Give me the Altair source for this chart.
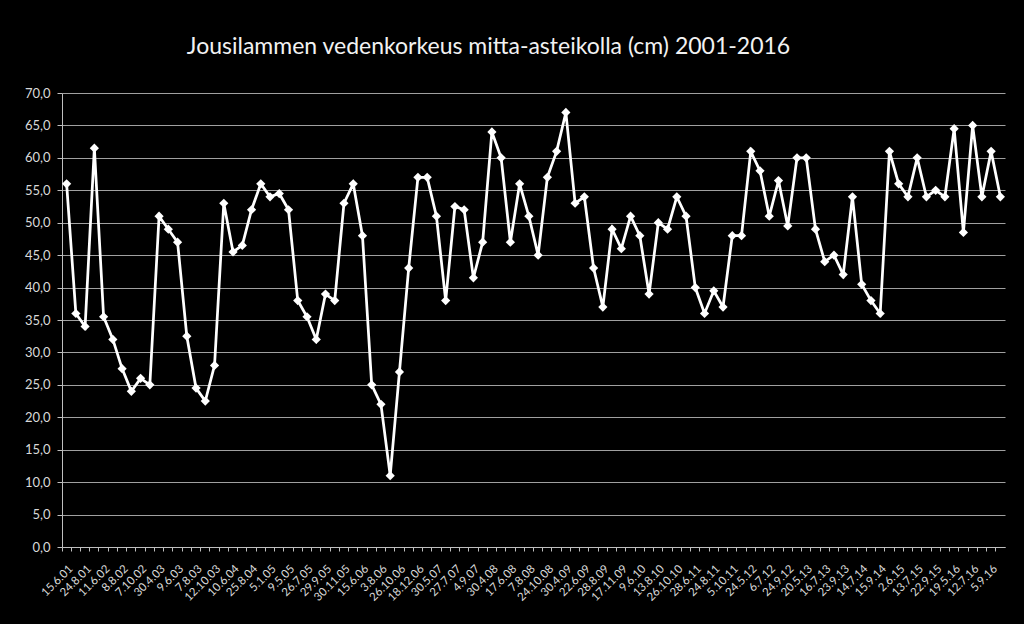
import altair as alt
import pandas as pd
import json

# Every other measurement date is printed on the axis (as in the original)
labelled_dates = [
    "15.6.01", "24.8.01", "11.6.02", "8.8.02", "7.10.02", "30.4.03", "9.6.03",
    "7.8.03", "12.10.03", "10.6.04", "25.8.04", "5.1.05", "9.5.05", "26.7.05",
    "29.9.05", "30.11.05", "15.6.06", "3.8.06", "26.10.06", "18.12.06",
    "30.5.07", "27.7.07", "4.9.07", "30.4.08", "17.6.08", "7.8.08", "24.10.08",
    "30.4.09", "22.6.09", "28.8.09", "17.11.09", "9.6.10", "13.8.10",
    "26.10.10", "28.6.11", "24.8.11", "5.10.11", "24.5.12", "6.7.12",
    "24.9.12", "20.5.13", "16.7.13", "23.9.13", "14.7.14", "15.9.14",
    "2.6.15", "13.7.15", "22.9.15", "19.5.16", "12.7.16", "5.9.16",
]

water_level = [
    56, 36, 34, 61.5, 35.5, 32, 27.5, 24, 26, 25,
    51, 49, 47, 32.5, 24.5, 22.5, 28, 53, 45.5, 46.5,
    52, 56, 54, 54.5, 52, 38, 35.5, 32, 39, 38,
    53, 56, 48, 25, 22, 11, 27, 43, 57, 57,
    51, 38, 52.5, 52, 41.5, 47, 64, 60, 47, 56,
    51, 45, 57, 61, 67, 53, 54, 43, 37, 49,
    46, 51, 48, 39, 50, 49, 54, 51, 40, 36,
    39.5, 37, 48, 48, 61, 58, 51, 56.5, 49.5, 60,
    60, 49, 44, 45, 42, 54, 40.5, 38, 36, 61,
    56, 54, 60, 54, 55, 54, 64.5, 48.5, 65, 54,
    61, 54,
]

title_text = "Jousilammen vedenkorkeus mitta-asteikolla (cm) 2001-2016"

n = len(water_level)
axis_labels = []
for i in range(n):
    axis_labels.append(labelled_dates[i // 2] if i % 2 == 0 and i // 2 < len(labelled_dates) else "")

df = pd.DataFrame({"idx": list(range(n)), "level": water_level})

FONT = "Lato"
PLOT_W, PLOT_H = 943, 454
step = PLOT_W / n

label_expr = json.dumps(axis_labels) + "[datum.value]"

chart = (
    alt.Chart(df)
    .mark_line(
        color="white",
        strokeWidth=2.75,
        point=alt.OverlayMarkDef(shape="diamond", size=85, filled=True, color="white", opacity=1),
    )
    .encode(
        x=alt.X(
            "idx:O",
            bandPosition=0.5,
            scale=alt.Scale(type="band", paddingInner=0, paddingOuter=0),
            axis=alt.Axis(
                title=None,
                bandPosition=0,
                labelExpr=label_expr,
                labelAngle=-45,
                labelAlign="right",
                labelBaseline="middle",
                labelOffset=step / 2,
                labelPadding=16,
                labelOverlap=False,
                labelFontSize=11.5,
                labelColor="#d9d9d9",
                labelFont=FONT,
                tickSize=4,
                tickColor="#bfbfbf",
                domainColor="#bfbfbf",
                grid=False,
            ),
        ),
        y=alt.Y(
            "level:Q",
            scale=alt.Scale(domain=[0, 70], nice=False),
            axis=alt.Axis(
                title=None,
                values=list(range(0, 71, 5)),
                labelExpr="replace(format(datum.value, '.1f'), '.', ',')",
                labelFontSize=13,
                labelColor="#d9d9d9",
                labelFont=FONT,
                labelPadding=7,
                tickSize=5,
                tickColor="#bfbfbf",
                domainColor="#bfbfbf",
                gridColor="#a0a0a0",
                gridWidth=1,
                gridOpacity=1,
            ),
        ),
    )
    .properties(
        width=PLOT_W,
        height=PLOT_H,
        title=alt.TitleParams(
            title_text,
            font=FONT,
            fontSize=23,
            fontWeight="normal",
            color="#f2f2f2",
            anchor="middle",
            baseline="alphabetic",
            offset=10,
            dx=-45,
        ),
        background="black",
        padding={"left": 62, "top": 93, "right": 19, "bottom": 77},
        autosize=alt.AutoSizeParams(type="none"),
    )
    .configure_view(stroke=None)
)

chart.save("out.html", embed_options={"renderer": "svg", "actions": False})
